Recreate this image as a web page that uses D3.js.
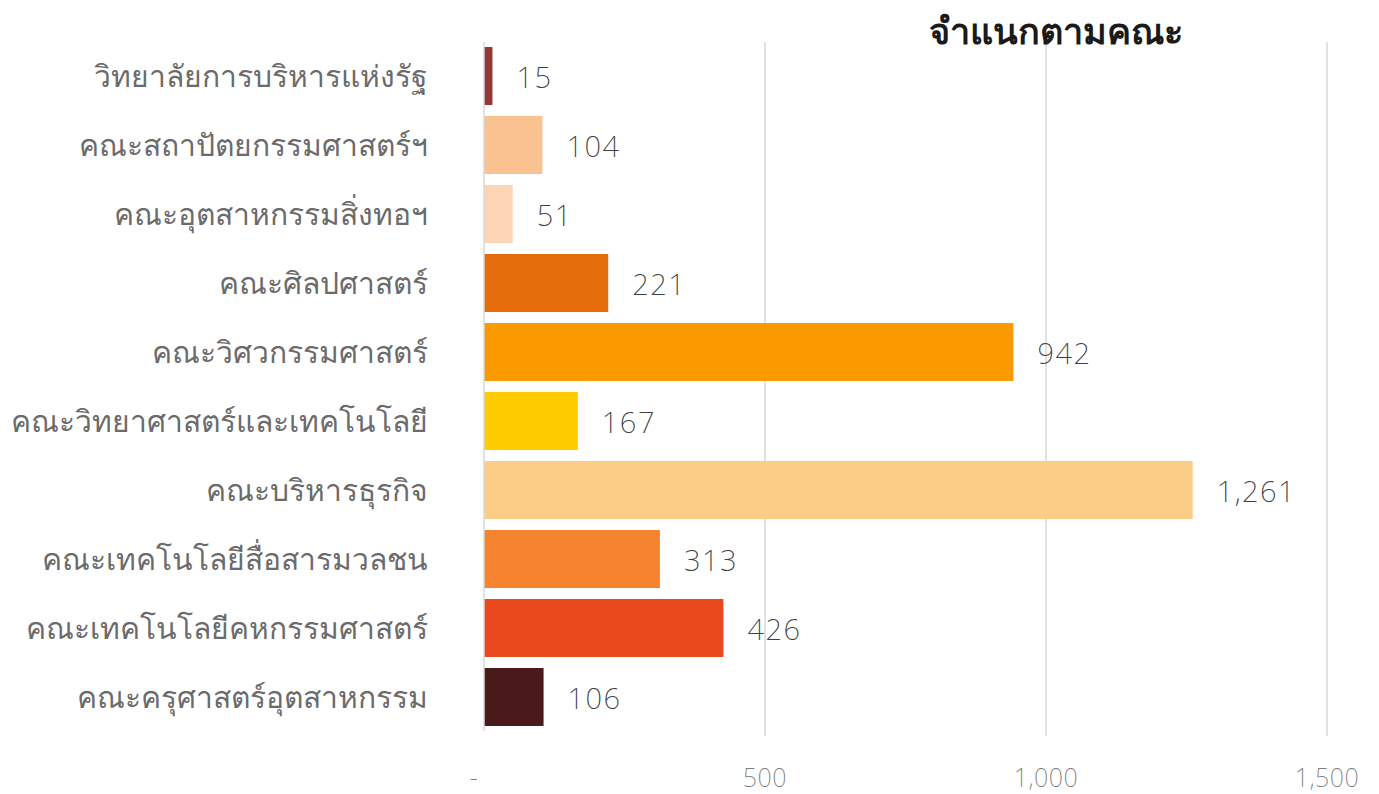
<!DOCTYPE html>
<html lang="th">
<head>
<meta charset="UTF-8">
<title>จำแนกตามคณะ</title>
<style>
  body { margin: 0; background: #fff; }
  svg { display: block; font-family: "Noto Sans", "DejaVu Sans", sans-serif; }
</style>
</head>
<body>
<svg id="chart" width="1379" height="794"></svg>
<script src="https://cdn.jsdelivr.net/npm/d3@7/dist/d3.min.js"></script>
<script>
  var faculties = [
    "วิทยาลัยการบริหารแห่งรัฐ",
    "คณะสถาปัตยกรรมศาสตร์ฯ",
    "คณะอุตสาหกรรมสิ่งทอฯ",
    "คณะศิลปศาสตร์",
    "คณะวิศวกรรมศาสตร์",
    "คณะวิทยาศาสตร์และเทคโนโลยี",
    "คณะบริหารธุรกิจ",
    "คณะเทคโนโลยีสื่อสารมวลชน",
    "คณะเทคโนโลยีคหกรรมศาสตร์",
    "คณะครุศาสตร์อุตสาหกรรม"
  ];
  var counts = [15, 104, 51, 221, 942, 167, 1261, 313, 426, 106];
  var barColors = ["#953735", "#fac191", "#fcd5b5", "#e46c0a", "#fb9a00",
                   "#ffcc00", "#fccd86", "#f5822d", "#e8481c", "#4a1a1a"];
  var xTicks = [0, 500, 1000, 1500];
  var title = "จำแนกตามคณะ";

  var svg = d3.select("#chart");

  var x = d3.scaleLinear().domain([0, 1500]).range([484, 1327]);
  var y = d3.scaleBand().domain(faculties).range([41.5, 731.5])
            .paddingInner(0.16).paddingOuter(0.08);

  // grid lines
  svg.append("g").selectAll("line")
    .data(xTicks.slice(1))
    .join("line")
      .attr("x1", d => x(d)).attr("x2", d => x(d))
      .attr("y1", 42).attr("y2", 736)
      .attr("stroke", "#d9d9d9").attr("stroke-width", 1.5);

  // x tick labels
  svg.append("g").selectAll("text")
    .data(xTicks)
    .join("text")
      .attr("x", d => x(d) - (d === 0 ? 10 : 0))
      .attr("y", 787)
      .attr("text-anchor", "middle")
      .attr("fill", "#7f7f7f")
      .attr("font-size", 25)
      .attr("font-weight", 200)
      .attr("letter-spacing", 0.5)
      .text(d => d === 0 ? "-" : d3.format(",")(d));

  // bars
  svg.append("g").selectAll("rect")
    .data(faculties)
    .join("rect")
      .attr("x", x(0))
      .attr("y", d => y(d))
      .attr("width", (d, i) => x(counts[i]) - x(0))
      .attr("height", y.bandwidth())
      .attr("fill", (d, i) => barColors[i]);

  // baseline
  svg.append("line")
    .attr("x1", x(0)).attr("x2", x(0))
    .attr("y1", 42).attr("y2", 731)
    .attr("stroke", "#d9d9d9").attr("stroke-width", 1.5);

  // category labels
  svg.append("g").selectAll("text")
    .data(faculties)
    .join("text")
      .attr("x", 428)
      .attr("y", d => y(d) + y.bandwidth() / 2)
      .attr("dy", "0.35em")
      .attr("text-anchor", "end")
      .attr("fill", "#6b6b6b")
      .attr("font-size", 30)
      .attr("font-weight", 200)
      .text(d => d);

  // value labels
  svg.append("g").selectAll("text")
    .data(faculties)
    .join("text")
      .attr("x", (d, i) => x(counts[i]) + 24)
      .attr("y", d => y(d) + y.bandwidth() / 2 + 2)
      .attr("dy", "0.35em")
      .attr("fill", "#404040")
      .attr("font-size", 29)
      .attr("font-weight", 200)
      .attr("letter-spacing", 1.5)
      .text((d, i) => d3.format(",")(counts[i]));

  // title
  svg.append("text")
    .attr("x", 1056)
    .attr("y", 44)
    .attr("text-anchor", "middle")
    .attr("fill", "#1a1a1a")
    .attr("font-size", 36)
    .attr("font-weight", "bold")
    .text(title);
</script>
</body>
</html>
